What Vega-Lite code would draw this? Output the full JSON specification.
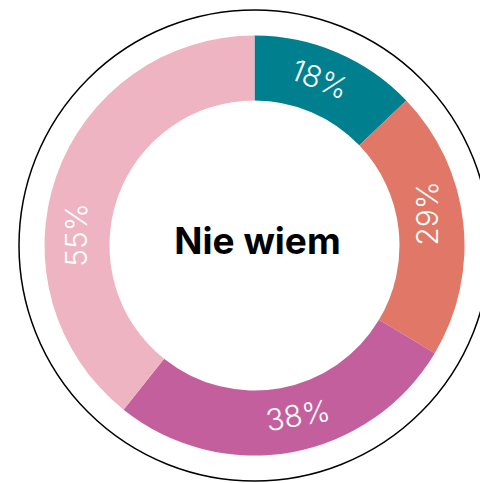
{
  "$schema": "https://vega.github.io/schema/vega-lite/v6.json",
  "width": 451,
  "height": 475,
  "autosize": {"type": "none"},
  "padding": {"left": 29, "top": 8, "right": 0, "bottom": 0},
  "background": "white",
  "view": {"stroke": null},
  "data": {"values": [
    {"label": "18%", "value": 18},
    {"label": "29%", "value": 29},
    {"label": "38%", "value": 38},
    {"label": "55%", "value": 55}
  ]},
  "layer": [
    {
      "transform": [{"aggregate": [{"op": "sum", "field": "value", "as": "total"}]}],
      "mark": {"type": "arc", "radius": 235.5, "fill": null, "stroke": "black", "strokeWidth": 1.5},
      "encoding": {
        "theta": {"field": "total", "type": "quantitative", "stack": true}
      }
    },
    {
      "mark": {"type": "arc", "radius": 210, "radius2": 145},
      "encoding": {
        "theta": {"field": "value", "type": "quantitative", "stack": true},
        "order": {"field": "label", "type": "ordinal"},
        "color": {
          "field": "label", "type": "nominal", "legend": null,
          "scale": {"domain": ["18%", "29%", "38%", "55%"], "range": ["#00808E", "#E07767", "#C45F9D", "#EEB4C2"]}
        }
      }
    },
    {
      "mark": {"type": "text", "radius": 177, "font": "Inter", "fontWeight": 300, "fontSize": 30, "fill": "white", "align": "center", "baseline": "middle",
        "thetaOffset": {"expr": "datum.label === '55%' ? -0.277 : (datum.label === '18%' ? -0.03 : -0.07)"},
        "angle": {"expr": "datum.label === '18%' ? 22 : (datum.label === '38%' ? -10 : -90)"}},
      "encoding": {
        "theta": {"field": "value", "type": "quantitative", "stack": true},
        "order": {"field": "label", "type": "ordinal"},
        "text": {"field": "label", "type": "nominal"}
      }
    },
    {
      "data": {"values": [{"title": "Nie wiem"}]},
      "mark": {"type": "text", "font": "Inter", "fontWeight": 700, "fontSize": 37, "fill": "black", "align": "center", "baseline": "alphabetic", "dy": 8, "dx": 3},
      "encoding": {
        "text": {"field": "title", "type": "nominal"}
      }
    }
  ]
}
